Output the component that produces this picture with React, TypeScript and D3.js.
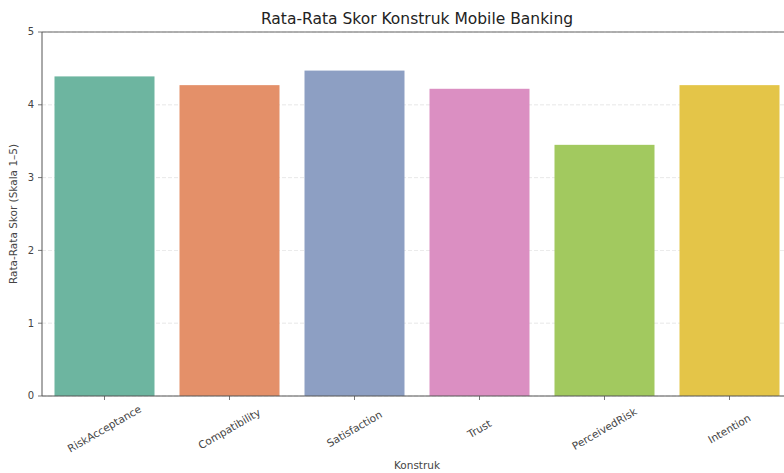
import React from "react";
import * as d3 from "d3";

const categories = ["RiskAcceptance", "Compatibility", "Satisfaction", "Trust", "PerceivedRisk", "Intention"];
const values = [4.39, 4.27, 4.47, 4.22, 3.45, 4.27];
const colors = ["#6db5a0", "#e49069", "#8d9fc3", "#db8fc2", "#a2c95f", "#e4c548"];
const yTicks = [0, 1, 2, 3, 4, 5];

const W = 784, H = 473;
const M = { left: 42, right: 792, top: 32, bottom: 396 };

export default function App() {
  const x = d3.scaleBand<string>().domain(categories).range([M.left, M.right]).paddingInner(0.2).paddingOuter(0.1);
  const y = d3.scaleLinear().domain([0, 5]).range([M.bottom, M.top]);
  const font = "DejaVu Sans, sans-serif";
  return (
    <svg width={W} height={H} style={{ position: "absolute", left: 0, top: 0, background: "#fff" }} fontFamily={font}>
      <rect x={0} y={0} width={W} height={H} fill="#fff" />
      {yTicks.map((t) => (
        <line key={"g" + t} x1={M.left} x2={M.right} y1={y(t)} y2={y(t)} stroke="#d8d8d8" strokeWidth={0.8} strokeDasharray="4,2" opacity={0.7} />
      ))}
      {categories.map((c, i) => (
        <rect key={c} x={x(c)} y={y(values[i])} width={x.bandwidth()} height={y(0) - y(values[i])} fill={colors[i]} />
      ))}
      <line x1={M.left} x2={M.right} y1={M.top} y2={M.top} stroke="#666" strokeWidth={1.2} />
      <line x1={M.left} x2={M.left} y1={M.top} y2={M.bottom} stroke="#555" strokeWidth={1} />
      <line x1={M.left} x2={M.right} y1={M.bottom} y2={M.bottom} stroke="#555" strokeWidth={1} />
      {yTicks.map((t) => (
        <g key={"t" + t}>
          <line x1={M.left - 4} x2={M.left} y1={y(t)} y2={y(t)} stroke="#555" strokeWidth={0.8} />
          <text x={M.left - 8} y={y(t)} dy="0.33em" textAnchor="end" fontSize={10} fill="#444">{t}</text>
        </g>
      ))}
      {categories.map((c) => {
        const cx = (x(c) as number) + x.bandwidth() / 2;
        return (
          <g key={"x" + c}>
            <line x1={cx} x2={cx} y1={M.bottom} y2={M.bottom + 4} stroke="#555" strokeWidth={0.8} />
            <text transform={`translate(${cx},${M.bottom + 33}) rotate(-30)`} textAnchor="middle" dy="0.33em" fontSize={10.5} fill="#444">{c}</text>
          </g>
        );
      })}
      <text x={(M.left + M.right) / 2} y={24} textAnchor="middle" fontSize={15.5} fill="#222">Rata-Rata Skor Konstruk Mobile Banking</text>
      <text x={(M.left + M.right) / 2} y={469} textAnchor="middle" fontSize={10.5} fill="#444">Konstruk</text>
      <text transform={`translate(17,${(M.top + M.bottom) / 2}) rotate(-90)`} textAnchor="middle" fontSize={10.5} fill="#444">Rata-Rata Skor (Skala 1–5)</text>
    </svg>
  );
}
